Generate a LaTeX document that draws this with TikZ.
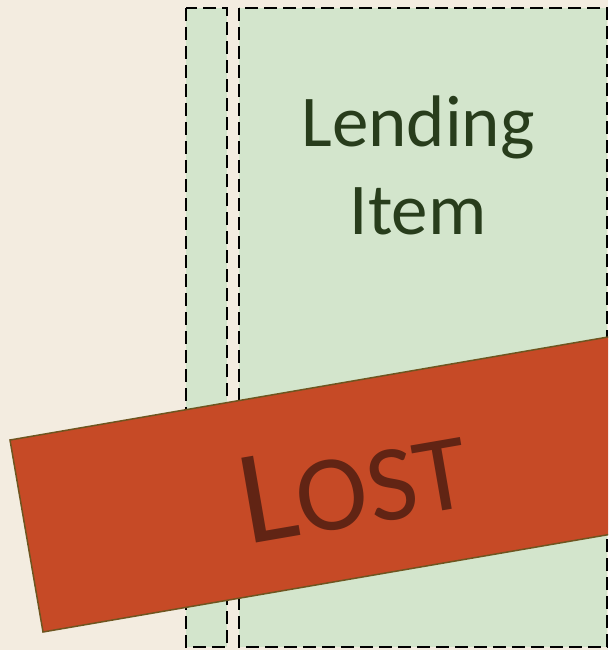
\documentclass[tikz,border=0pt]{standalone}
\usepackage{fontspec}
\setmainfont{Carlito}
\definecolor{bgbeige}{HTML}{F3ECE0}
\definecolor{boxgreen}{HTML}{D3E5CC}
\definecolor{bandred}{HTML}{C64A26}
\definecolor{bandedge}{HTML}{6E5520}
\definecolor{lostred}{HTML}{612414}
\definecolor{textgreen}{HTML}{283D1C}
\tikzset{
  lanebox/.style={fill=boxgreen, draw=black, line width=2.6pt, dash pattern=on 13pt off 6pt},
  band/.style={fill=bandred, draw=bandedge, line width=1.5pt},
}
\begin{document}
\begin{tikzpicture}[x=1pt,y=-1pt]
\useasboundingbox (0,0) rectangle (608,650);
\clip (0,0) rectangle (608,650);
\fill[bgbeige] (0,0) rectangle (608,650);
\draw[lanebox] (186,8) rectangle (227,647);
\draw[lanebox] (239,8) rectangle (607,647);
\node[text=textgreen, align=center, font=\fontsize{73}{88}\selectfont, anchor=base] (title) at (418,234) {Lending\\Item};
\draw[band] (10,440) -- (699.8,321.2) -- (732.8,513.2) -- (43,632) -- cycle;
\node[text=lostred, rotate=9.77, anchor=base west, inner sep=0pt] (lost) at (247,545)
  {{\fontsize{134}{134}\selectfont L}{\fontsize{108}{108}\selectfont OST}};
\end{tikzpicture}
\end{document}
